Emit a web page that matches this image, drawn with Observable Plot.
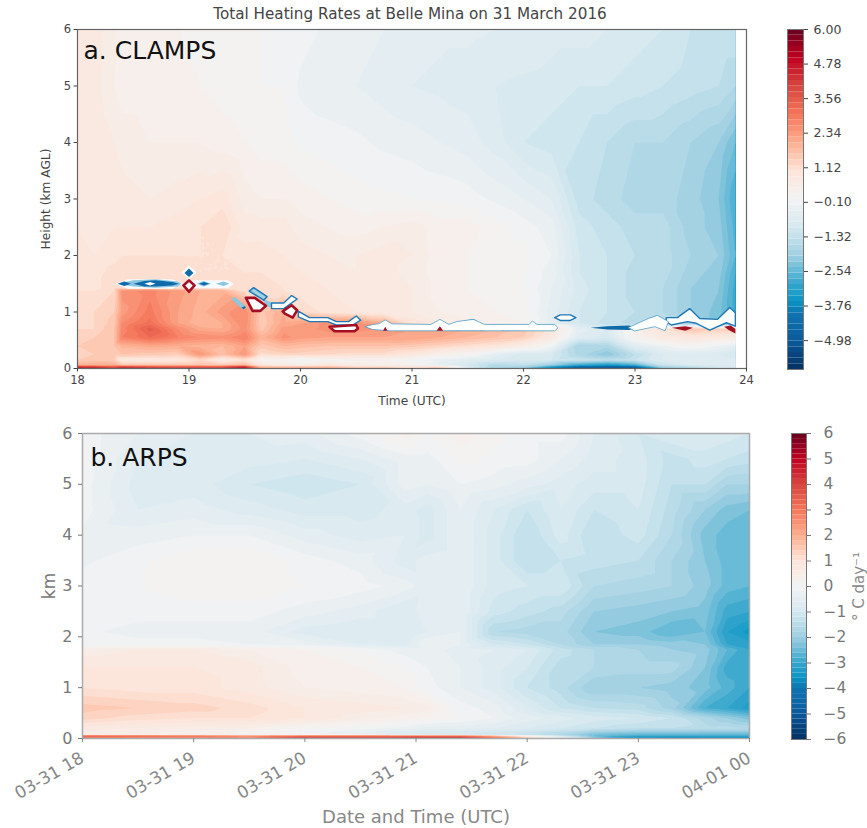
<!DOCTYPE html>
<html><head><meta charset="utf-8">
<script src="https://cdn.jsdelivr.net/npm/d3@7"></script>
<script src="https://cdn.jsdelivr.net/npm/@observablehq/plot@0.6"></script>
<style>
html,body{margin:0;padding:0;background:#fff}
#root{position:relative;width:867px;height:828px;overflow:hidden}
#root>div,#root>svg{position:absolute}
svg{overflow:visible;background:transparent!important}
</style></head><body><div id="root"></div>
<script>
// ---------- chart text ----------
const chartTitle = "Total Heating Rates at Belle Mina on 31 March 2016";
const panelA = "a. CLAMPS", panelB = "b. ARPS";
const hourTicks = [18,19,20,21,22,23,24];
const dateLabels = ["03-31 18","03-31 19","03-31 20","03-31 21","03-31 22","03-31 23","04-01 00"];
const kmTicks = [0,1,2,3,4,5,6];
const barTicksA = [6,4.78,3.56,2.34,1.12,-0.10,-1.32,-2.54,-3.76,-4.98];
const barTicksB = [6,5,4,3,2,1,0,-1,-2,-3,-4,-5,-6];

// ---------- CLAMPS field (rows top to bottom) ----------
const hoursA = [18,18.15,18.33,18.4,18.65,18.9,19.1,19.3,19.5,19.65,19.85,20,20.25,20.5,20.75,21,21.25,21.5,21.75,22,22.25,22.5,22.75,23,23.25,23.5,23.75,23.9];
const heightsA = [6,5,4,3,2.5,2,1.7,1.42,1.38,1,0.8,0.7,0.55,0.4,0.25,0.15,0.06,0.02,0];
const clampsRows = [
[.7,.7,.45,.3,.25,.2,.2,.1,0,0,-.05,-.1,-.25,-.3,-.4,-.5,-.55,-.55,-.6,-.6,-.7,-.7,-.8,-.9,-1,-1.2,-1.2,-1.2],
[.6,.7,.4,.3,.3,.3,.2,.1,.05,0,0,-.25,-.35,-.4,-.5,-.6,-.65,-.7,-.8,-.85,-.9,-1,-1,-1.1,-1.2,-1.3,-1.4,-1.6],
[.7,.8,.6,.5,.4,.4,.4,.3,.2,.1,.1,-.05,-.1,-.15,-.25,-.3,-.4,-.5,-.7,-1,-1.1,-1.2,-1.4,-1.6,-1.6,-1.8,-2,-2.4],
[.7,.7,.7,.7,.6,.7,.8,.9,.5,.4,.4,.3,.2,.1,.05,0,-.05,-.1,-.25,-.4,-.6,-1.3,-1.5,-1.7,-1.7,-1.9,-2.2,-2.8],
[.8,.7,.8,.8,.8,.9,1,1.2,.7,.7,.7,.5,.4,.3,.4,.5,.3,.3,.1,-.1,-.3,-1.1,-1.3,-1.5,-1.5,-1.9,-2.1,-2.7],
[.9,.8,.9,1,1,1,1,1,.9,.9,.8,.7,.6,.6,.7,.6,.3,.2,.1,.1,-.2,-1,-1.2,-1.4,-1.5,-1.8,-2,-2.6],
[.9,.9,1.1,1.2,1.2,1.1,1,1,1,1,.9,.8,.7,.6,.7,.5,.3,.2,.1,0,-.3,-1,-1.2,-1.5,-1.5,-1.9,-2.1,-2.8],
[.9,.9,1.2,1.2,1.1,1.1,1.1,1.1,1.1,1.1,1,.9,.8,.7,.7,.6,.3,.2,.1,0,-.4,-.9,-1.2,-1.5,-1.6,-2,-2.2,-2.9],
[1,1,1.2,2.5,2.7,2.3,2,1.9,1.1,1.1,1,.9,.8,.7,.7,.6,.3,.2,.1,0,-.4,-.9,-1.2,-1.5,-1.6,-2,-2.2,-2.9],
[1,1.2,1.4,2.3,2.9,2.2,1.9,2.3,2.6,1.5,2,1.2,.9,.8,.7,.6,.4,.3,.2,.1,-.5,-1,-1.2,-1.4,-1.6,-2,-2.3,-2.9],
[1.1,1.2,1.5,2.6,3.1,2.2,1.8,2,2.6,1.4,2.1,2.2,2.5,2.5,2,1,.6,.4,.3,.2,-.5,-1,-1.3,-1.5,-1.4,-2,-2.3,-2.9],
[1.2,1.2,1.6,2.7,3.5,2.6,2.1,2,2.5,1.5,2.3,2.3,2.5,2.5,2.4,2.2,2.2,2,1.8,1.5,.9,-.5,-.8,.3,1,1.6,1.4,1.4],
[1.3,1.4,1.6,2.8,3.2,2.8,2.6,2.5,2.8,1.9,2.5,2.3,2.2,2.2,2.2,2.2,2,1.8,1.6,1.4,.7,-.7,-.9,.2,.7,.8,.7,.6],
[1.4,1.5,1.6,1.9,2.1,2,1.9,1.8,2.2,1.5,1.8,1.7,1.6,1.6,1.6,1.5,1.3,1.1,.9,.5,-.1,-1.8,-1.7,-.6,-.2,.1,-.2,-.4],
[1.3,1.4,1.5,1.6,1.5,1.4,2.4,1.7,2.4,1.1,1.3,1.3,1.2,1.1,1.1,.8,.3,.1,-.5,-.9,-.9,-1.7,-2.2,-1.4,-.8,-.7,-.8,-1],
[1.4,1.5,1.4,.7,.7,.8,1.2,.6,1,.1,.2,-.2,.1,.2,.2,-.1,-.3,-.6,-.8,-.9,-1,-1.2,-1.4,-1.2,-.8,-.6,-.6,-.7],
[2,2,2,1.6,1.6,1.6,1.6,1.5,1.8,.8,.5,.4,.8,.5,.4,.2,-.5,-1,-1.6,-1.4,-2,-3,-3.4,-2.8,-1.2,-.8,-.8,-.7],
[4.8,4.6,4,4.5,4.2,4,4,4,5,2,2,2,2,1.5,1.5,1,1.4,-.8,-1.8,-2,-3.6,-4.8,-5,-4.9,-2,-1.6,-1,-.8],
[4.6,4.6,4,4.5,4.2,4,4,4,4.8,2,2,2,2,1.5,1.5,1,1.4,-.8,-1.8,-2,-3.6,-4.8,-5,-4.9,-2,-1.6,-1,-.8]
];

// ---------- ARPS field (rows top to bottom) ----------
const hoursB = [18,18.5,19,19.5,20,20.5,20.9,21.1,21.4,21.7,22,22.3,22.6,23,23.3,23.6,23.8,24];
const heightsB = [6,5.5,5,4.5,4,3.5,3,2.5,2.1,1.85,1.75,1.4,1,.6,.4,.2,.1,.07,.05,0];
const arpsRows = [
[-.1,-.4,-.6,-.6,-.5,-.1,.3,0,.3,.05,-.1,-.1,-.6,-1,-.8,-.8,-.9,-1],
[-.1,-.6,-.7,-.7,-.8,-.6,-.3,-.3,.1,-.05,-.1,-.4,-.7,-.9,-1.3,-1.1,-1.2,-1.3],
[-.1,-.7,-.7,-1,-1.15,-1,-.3,-.4,-.2,-.3,-.5,-.7,-.9,-.9,-1.4,-1.4,-1.8,-1.8],
[-.1,-.6,-.5,-.7,-.9,-.9,-.7,-.9,-.4,-.8,-1.2,-.8,-1.2,-1,-1.5,-2,-2.3,-2.4],
[-.25,-.3,-.2,-.2,-.5,-.7,-.6,-.9,-.4,-.9,-1.4,-.9,-1.4,-1.1,-1.6,-2.3,-2.5,-2.6],
[-.25,-.05,.2,.2,-.1,-.3,-.7,-.5,-.4,-.9,-1.4,-1.2,-1.3,-1.4,-1.8,-2.2,-2.5,-2.6],
[-.1,0,.2,.2,0,-.1,-.3,-.5,-.4,-.9,-1,-1,-1.6,-1.7,-1.8,-2.1,-2.5,-2.6],
[-.1,-.1,-.1,-.1,-.3,-.5,-.8,-.4,-.4,-1.1,-1.3,-1.5,-2,-2.1,-2.2,-2.3,-2.9,-3],
[-.15,-.3,-.3,-.3,-.7,-.8,-.8,-.6,-.4,-1.6,-1.7,-1.7,-2.2,-2.3,-2.6,-2.4,-3.2,-3.5],
[-.1,-.1,-.1,-.2,-.3,-.6,-.7,-.2,-.4,-1,-1.2,-1.6,-2,-2,-2.1,-2.2,-3,-3.1],
[.5,.6,.6,.4,.2,0,-.3,-.3,-.5,-.6,-.8,-1.3,-1.6,-1.8,-2,-2.1,-2.6,-3],
[.8,.8,.8,.7,.3,.2,0,-.2,-.4,-.7,-1,-1.5,-1.6,-1.7,-1.7,-2.2,-2.9,-3],
[1,.9,.9,.7,.4,.3,.2,-.1,-.4,-.7,-1.2,-1.5,-2,-2,-2.1,-2.3,-2.7,-3],
[1.5,1.4,1.3,1.1,.8,.7,.6,.5,-.1,-.3,-.8,-1.2,-1.4,-1.5,-1.9,-2.8,-3,-3.3],
[1.3,1.1,1,1,.8,.5,.3,.2,0,-.2,-.5,-.7,-.9,-1,-1.2,-1.7,-2,-2.3],
[.7,.6,.5,.4,0,-.1,-.3,-.5,-.5,-.6,-.8,-1,-1.2,-1.4,-1.4,-1.5,-1.5,-1.6],
[.5,.4,.3,.1,-.1,-.4,-.8,-.9,-1,-1.1,-1.3,-1.6,-2.2,-2.4,-2.4,-2.4,-2.4,-2.4],
[.6,.5,.4,.2,0,-.3,-.7,-.8,-.9,-1,-1.3,-1.7,-2.4,-2.6,-2.6,-2.6,-2.6,-2.6],
[3.4,3.2,3,2.5,3,3,3,3,3,2,.5,-1,-2.4,-3,-3,-3,-3,-3],
[2.6,2.5,2.5,2.5,4.4,4.4,4.6,4.8,4.8,3.4,1.5,0,-2,-3.8,-4.2,-4,-4,-4]
];

// ---------- masked cloud-layer outlines in panel a: [hour, km] ----------
const cloudShapes = [
 {kind:"halo",pts:[[18.34,1.5],[18.45,1.58],[18.85,1.58],[18.95,1.5],[18.85,1.41],[18.45,1.41]]},
 {kind:"halo",pts:[[19.03,1.42],[19.35,1.42],[19.4,1.5],[19.35,1.56],[19.03,1.56]]},
 {kind:"halo",pts:[[18.93,1.7],[19,1.82],[19.07,1.7],[19,1.58]]},
 {kind:"pale",pts:[[18.36,1.5],[18.5,1.56],[18.7,1.58],[18.9,1.54],[18.93,1.5],[18.9,1.45],[18.7,1.43],[18.5,1.45]]},
 {kind:"deep",pts:[[18.36,1.5],[18.42,1.54],[18.48,1.5],[18.42,1.46]]},
 {kind:"deep",pts:[[18.5,1.5],[18.6,1.55],[18.7,1.56],[18.85,1.53],[18.91,1.5],[18.85,1.47],[18.7,1.45],[18.6,1.45]]},
 {kind:"core",pts:[[18.6,1.5],[18.65,1.53],[18.7,1.5],[18.65,1.47]]},
 {kind:"pale",pts:[[19.07,1.5],[19.13,1.55],[19.2,1.5],[19.13,1.45]]},
 {kind:"deep",pts:[[19.09,1.5],[19.135,1.53],[19.18,1.5],[19.135,1.47]]},
 {kind:"pale",pts:[[19.24,1.5],[19.31,1.54],[19.36,1.5],[19.31,1.46]]},
 {kind:"rim",pts:[[18.95,1.47],[19,1.56],[19.05,1.47],[19,1.36]]},
 {kind:"deep",pts:[[18.96,1.69],[19,1.77],[19.04,1.69],[19,1.62]]},
 {kind:"pale",pts:[[19.38,1.23],[19.41,1.27],[19.51,1.1],[19.48,1.05]]},
 {kind:"deep",pts:[[19.47,1.08],[19.5,1.1],[19.51,1.08],[19.49,1.05]]},
 {kind:"rim",pts:[[19.51,1.25],[19.59,1.25],[19.69,1.11],[19.64,1.02],[19.57,1.02]]},
 {kind:"band",pts:[[19.54,1.37],[19.58,1.43],[19.7,1.27],[19.67,1.21]]},
 {kind:"pale",pts:[[19.66,1.24],[19.75,1.16],[19.75,1.08],[19.69,1.1]]},
 {kind:"void",pts:[[19.74,1.16],[19.85,1.16],[19.92,1.29],[19.97,1.23],[19.85,1.06],[19.74,1.06]]},
 {kind:"rim",pts:[[19.84,1.01],[19.92,1.12],[19.97,1.03],[19.93,.9],[19.86,.97]]},
 {kind:"void",pts:[[19.98,1.015],[20.08,.9],[20.245,.9],[20.32,.83],[20.43,.83],[20.5,.93],[20.54,.855],[20.47,.77],[20.32,.77],[20.245,.83],[20.08,.83],[19.98,.915]]},
 {kind:"rim",pts:[[20.26,.74],[20.5,.77],[20.515,.71],[20.485,.66],[20.305,.66]]},
 {kind:"thin",pts:[[20.58,.74],[20.65,.78],[20.7,.79],[20.76,.86],[20.82,.79],[21.17,.78],[21.25,.87],[21.33,.78],[21.4,.83],[21.55,.87],[21.65,.78],[22.05,.78],[22.08,.84],[22.12,.78],[22.28,.78],[22.31,.72],[22.28,.667],[21,.667],[20.8,.667],[20.65,.69]]},
 {kind:"deep",pts:[[21.38,.81],[21.55,.875],[21.58,.85],[21.45,.82]]},
 {kind:"deep",pts:[[21.33,.685],[21.65,.685],[21.65,.665],[21.33,.665]]},
 {kind:"deep",pts:[[21.8,.68],[21.97,.68],[21.97,.665],[21.8,.665]]},
 {kind:"hot",pts:[[21.22,.667],[21.25,.75],[21.28,.667]]},
 {kind:"hot",pts:[[20.74,.667],[20.76,.74],[20.78,.667]]},
 {kind:"void",pts:[[22.28,.9],[22.33,.95],[22.42,.95],[22.47,.9],[22.42,.85],[22.33,.85]]},
 {kind:"deep",pts:[[22.6,.72],[22.75,.75],[22.95,.76],[23,.72],[22.95,.68],[22.75,.69]]},
 {kind:"thin",pts:[[22.94,.725],[23.12,.885],[23.2,.94],[23.3,.83],[23.27,.667],[23.18,.74],[23,.667]]},
 {kind:"void",pts:[[23.28,.9],[23.38,.9],[23.49,1.06],[23.58,.885],[23.74,.87],[23.85,1.08],[23.9,.985],[23.9,.75],[23.82,.81],[23.67,.68],[23.55,.8],[23.47,.83],[23.325,.77],[23.28,.83]]},
 {kind:"hot",pts:[[23.33,.72],[23.45,.75],[23.52,.72],[23.45,.67]]},
 {kind:"hot",pts:[[23.8,.74],[23.86,.76],[23.9,.7],[23.9,.62],[23.84,.68]]}
];

// ---------- shared colour scale, matches the two colour bars ----------
const colorStops = [-6,-5,-4,-3.6,-3,-2,-1,0,1,2,3,4,5,6];
const colorRamp = ["#053061","#0a5a9c","#1075b0","#0a95c5","#34a6cc","#9fcfe2","#d5e8f0","#f3f3f3","#fde4d8","#fdae8f","#f4755a","#d6453f","#c00020","#67001f"];
// a contour band is painted with its lower threshold, so the ramp sits half a band lower
const colorScale = {type:"linear",domain:colorStops.map(s=>s-0.1),range:colorRamp,clamp:true};
const levels = d3.range(-6,6,0.2);
const font = "'DejaVu Sans', sans-serif";

const grid = (hours,heights,rows) => heights.flatMap((km,r) => hours.map((h,c) => ({h,km,v:rows[r][c]})));
const place = (el,left,top) => {el.style.left=left+"px";el.style.top=top+"px";document.getElementById("root").append(el);};

const cloudPts = cloudShapes.flatMap((s,i) => s.pts.map(([h,km]) => ({id:i,kind:s.kind,h,km})));
const cloud = (kind,opts) => Plot.line(cloudPts.filter(d => d.kind===kind),{x:"h",y:"km",z:"id",curve:"linear-closed",...opts});

// ---------- panel a ----------
place(Plot.plot({
  width:867,height:410,marginLeft:77,marginRight:121,marginTop:29,marginBottom:42,
  style:{fontFamily:font,background:"transparent"},
  x:{domain:[18,24]},y:{domain:[0,6]},color:colorScale,
  marks:[
    Plot.contour(grid(hoursA,heightsA,clampsRows),{x:"h",y:"km",fill:"v",interpolate:"barycentric",thresholds:levels,x1:18,x2:23.9,y1:6,y2:0,pixelSize:1}),
    cloud("halo",{fill:"#f7fbfd",stroke:"none"}),
    cloud("pale",{fill:"#8cc6df",stroke:"none"}),
    cloud("band",{fill:"#9fd0e4",stroke:"#1f78b4",strokeWidth:1.5}),
    cloud("deep",{fill:"#0f6aa9",stroke:"none"}),
    cloud("core",{fill:"#fff",stroke:"none"}),
    cloud("void",{fill:"#fff",stroke:"#1f78b4",strokeWidth:1.4}),
    cloud("thin",{fill:"#fff",stroke:"#4f9fc8",strokeWidth:.8}),
    cloud("rim",{fill:"#fff",stroke:"#a50f24",strokeWidth:2.6}),
    cloud("hot",{fill:"#a50f24",stroke:"none"}),
    Plot.frame({stroke:"#666",strokeWidth:1.2}),
    Plot.axisX({ticks:hourTicks,tickFormat:d=>String(d),label:null,tickSize:3.5,tickPadding:4,fontSize:11.5,color:"#444"}),
    Plot.axisX({ticks:[],label:"Time (UTC)",labelAnchor:"center",labelArrow:"none",labelOffset:36,fontSize:12.2,color:"#444"}),
    Plot.axisY({ticks:kmTicks,tickFormat:d=>String(d),label:null,tickSize:3.5,tickPadding:3,fontSize:11.5,color:"#444"}),
    Plot.axisY({ticks:[],label:"Height (km AGL)",labelAnchor:"center",labelArrow:"none",labelOffset:36,fontSize:12.2,color:"#444"}),
    Plot.text([chartTitle],{frameAnchor:"top",dx:-2,dy:-21,fontSize:15.2,fill:"#444",lineAnchor:"top"}),
    Plot.text([panelA],{frameAnchor:"top-left",dx:6,dy:12,fontSize:25,fill:"#111",lineAnchor:"top",textAnchor:"start"})
  ]
}),0,0);

// ---------- panel b ----------
place(Plot.plot({
  width:867,height:418,marginLeft:82,marginRight:118,marginTop:23,marginBottom:90,
  style:{fontFamily:font,background:"transparent"},
  x:{domain:[18,24]},y:{domain:[0,6]},color:colorScale,
  marks:[
    Plot.contour(grid(hoursB,heightsB,arpsRows),{x:"h",y:"km",fill:"v",interpolate:"barycentric",thresholds:levels,x1:18,x2:24,y1:6,y2:0,pixelSize:1}),
    Plot.frame({stroke:"#aaa",strokeWidth:1.5}),
    Plot.axisX({ticks:hourTicks,tickFormat:d=>dateLabels[hourTicks.indexOf(d)],label:null,tickRotate:-30,tickSize:4,tickPadding:14,fontSize:17,color:"#888"}),
    Plot.axisX({ticks:[],label:"Date and Time (UTC)",labelAnchor:"center",labelArrow:"none",labelOffset:84,fontSize:18,color:"#888"}),
    Plot.axisY({ticks:kmTicks,tickFormat:d=>String(d),label:null,tickSize:4,tickPadding:6,fontSize:16,color:"#777"}),
    Plot.axisY({ticks:[],label:"km",labelAnchor:"center",labelArrow:"none",labelOffset:40,fontSize:17,color:"#777"}),
    Plot.text([panelB],{frameAnchor:"top-left",dx:8,dy:15,fontSize:25,fill:"#111",lineAnchor:"top",textAnchor:"start"})
  ]
}),0,410);

// ---------- colour bars ----------
const bar = (marginLeft,marginRight,marginTop,marginBottom,height,axes) => Plot.plot({
  width:107,height,marginLeft,marginRight,marginTop,marginBottom,
  style:{fontFamily:font,background:"transparent"},
  x:{domain:[0,1],axis:null},y:{domain:[-6,6]},color:colorScale,
  marks:[
    Plot.rect(levels,{x1:0,x2:1,y1:d=>d,y2:d=>d+0.2,fill:d=>d}),
    Plot.frame({stroke:"#777",strokeWidth:1}),
    ...axes
  ]
});
place(bar(27,64,29,31,400,[Plot.axisY({anchor:"right",ticks:barTicksA,tickFormat:d3.format(".2f"),label:null,tickSize:4,tickPadding:6,fontSize:12.5,color:"#444"})]),760,0);
place(bar(31,61,23,21,350,[
  Plot.axisY({anchor:"right",ticks:barTicksB,tickFormat:d3.format("d"),label:null,tickSize:4,tickPadding:13,fontSize:15.5,color:"#777"}),
  Plot.axisY({anchor:"right",ticks:[],label:"° C day⁻¹",labelAnchor:"center",labelArrow:"none",labelOffset:57,fontSize:15,color:"#888"})
]),760,410);
</script></body></html>
